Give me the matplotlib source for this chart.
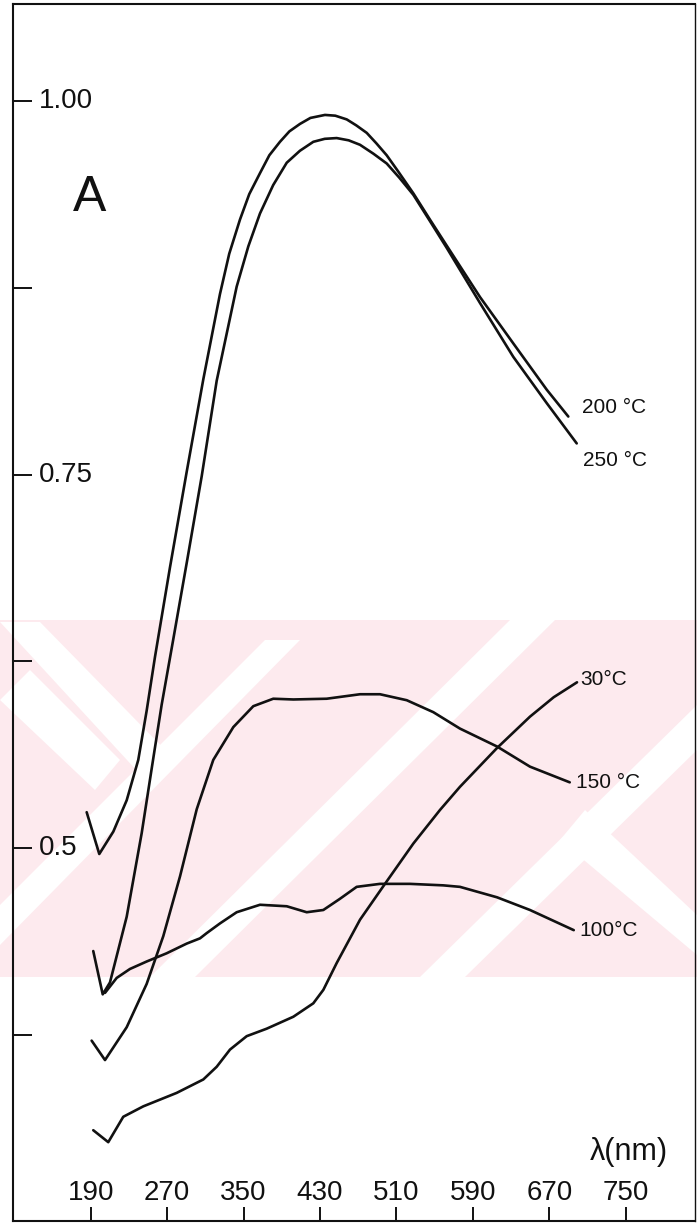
import matplotlib
matplotlib.use("Agg")
import matplotlib.pyplot as plt
from matplotlib.patches import Polygon, Rectangle
from matplotlib.transforms import Affine2D

plt.rcParams['font.family'] = ['Liberation Sans', 'DejaVu Sans']

# ---------------- data (wavelength nm, absorbance A) ----------------
x_ticks = [190, 270, 350, 430, 510, 590, 670, 750]
y_ticks = [1.00, 0.875, 0.75, 0.625, 0.5, 0.375]
y_ticklabels = ["1.00", "", "0.75", "", "0.5", ""]

wl_200 = [185.8, 199.0, 213.7, 227.7, 239.8, 248.6, 257.3, 273.0, 290.5, 307.9, 325.3,
          335.0, 346.3, 356.0, 367.2, 377.0, 388.1, 398.0, 409.1, 420.0, 435.2, 446.0,
          458.0, 468.0, 478.9, 489.0, 499.8, 512.0, 527.7, 545.0, 562.6, 597.5,
          632.3, 667.3, 689.9]
a_200 = [0.524, 0.496, 0.511, 0.532, 0.559, 0.592, 0.628, 0.688, 0.752, 0.814, 0.871,
         0.898, 0.921, 0.938, 0.952, 0.964, 0.973, 0.980, 0.985, 0.989, 0.991, 0.9905,
         0.988, 0.984, 0.979, 0.972, 0.964, 0.953, 0.9385, 0.921, 0.9035, 0.869,
         0.838, 0.807, 0.789]

wl_250 = [192.7, 202.6, 210.2, 227.7, 243.4, 253.8, 264.3, 276.5, 290.8, 306.2, 321.9,
          342.8, 355.0, 367.2, 381.0, 395.2, 409.0, 423.0, 435.0, 447.5, 460.0, 471.9,
          486.0, 499.8, 513.0, 527.7, 545.0, 562.6, 597.5, 632.3, 667.3, 698.7]
a_250 = [0.431, 0.402, 0.410, 0.454, 0.510, 0.553, 0.596, 0.640, 0.692, 0.749, 0.813,
         0.876, 0.903, 0.925, 0.944, 0.959, 0.967, 0.973, 0.975, 0.9755, 0.974, 0.971,
         0.965, 0.9585, 0.949, 0.9375, 0.920, 0.902, 0.865, 0.829, 0.798, 0.771]

wl_150 = [191.0, 205.0, 227.7, 248.6, 266.0, 283.5, 301.0, 318.3, 339.3, 360.2, 381.1,
          402.1, 437.0, 471.9, 492.8, 520.8, 548.6, 576.5, 615.3, 649.8, 691.4]
a_150 = [0.371, 0.358, 0.380, 0.409, 0.441, 0.481, 0.526, 0.559, 0.581, 0.595, 0.600,
         0.5995, 0.600, 0.603, 0.603, 0.599, 0.591, 0.580, 0.568, 0.5545, 0.544]

wl_100 = [205.0, 217.2, 231.1, 248.6, 269.5, 290.5, 304.4, 311.4, 325.3, 342.8, 367.2,
          395.2, 416.1, 433.5, 450.9, 468.4, 492.8, 524.2, 559.1, 576.5, 615.3, 649.8,
          695.6]
a_100 = [0.403, 0.413, 0.419, 0.424, 0.4295, 0.436, 0.4395, 0.443, 0.4495, 0.457, 0.462,
         0.461, 0.457, 0.4585, 0.466, 0.474, 0.476, 0.476, 0.475, 0.474, 0.467, 0.4585,
         0.445]

wl_30 = [192.7, 208.4, 224.1, 245.1, 280.0, 307.9, 321.9, 335.8, 353.3, 374.2, 402.1,
         423.0, 433.5, 447.5, 471.9, 498.0, 527.7, 555.6, 576.5, 615.3, 649.8, 674.6, 699.0]
a_30 = [0.311, 0.303, 0.320, 0.327, 0.336, 0.345, 0.3535, 0.365, 0.374, 0.379, 0.387,
        0.396, 0.405, 0.423, 0.452, 0.476, 0.503, 0.5255, 0.541, 0.567, 0.588, 0.601, 0.611]

curves = [
    (wl_200, a_200, "200 °C", (14, 9)),
    (wl_250, a_250, "250 °C", (6, -17)),
    (wl_30, a_30, "30°C", (3, 3)),
    (wl_150, a_150, "150 °C", (6, 0)),
    (wl_100, a_100, "100°C", (6, 0)),
]

# ---------------- figure ----------------
W, H = 697, 1229
fig = plt.figure(figsize=(W / 100, H / 100), dpi=100)
fig.patch.set_facecolor('white')

# faint pink watermark band (pixel coords, origin top-left)
px = Affine2D().scale(1 / W, -1 / H).translate(0, 1) + fig.transFigure
pink = '#fdeaee'
fig.patches.append(Rectangle((0, 620), W, 357, transform=px, facecolor=pink,
                             edgecolor='none', zorder=-5))
white_stripes = [
    [(0, 622), (40, 622), (175, 760), (150, 785)],
    [(0, 905), (0, 945), (300, 640), (265, 640)],
    [(150, 977), (195, 977), (555, 620), (510, 620)],
    [(420, 977), (465, 977), (697, 750), (697, 705)],
    [(560, 840), (585, 810), (697, 915), (697, 955)],
    [(0, 700), (30, 670), (120, 760), (95, 790)],
]
for poly in white_stripes:
    fig.patches.append(Polygon(poly, closed=True, transform=px, facecolor='white',
                               edgecolor='none', zorder=-4))

ax = fig.add_axes([13 / W, 8 / H, 682 / W, 1217 / H])
ax.set_zorder(2)
ax.set_facecolor('none')
ax.set_xlim(108.7, 822.5)
ax.set_ylim(0.2502, 1.0653)

for sp in ax.spines.values():
    sp.set_linewidth(1.5)
    sp.set_color('#111111')
ax.spines['right'].set_linewidth(1.0)

lc = '#111111'
for wl, a, lab, off in curves:
    ax.plot(wl, a, color=lc, lw=1.9, solid_joinstyle='round', solid_capstyle='round')
    ax.annotate(lab, xy=(wl[-1], a[-1]), xytext=off, textcoords='offset pixels',
                ha='left', va='center', fontsize=15, color=lc)

# ticks
ax.set_xticks(x_ticks)
ax.set_xticklabels([])
ax.tick_params(axis='x', direction='in', length=10, width=1.4, color=lc)
for xt in x_ticks:
    ax.text(xt, 0.0175, str(xt), transform=ax.get_xaxis_transform(),
            ha='center', va='baseline', fontsize=20, color=lc)

ax.set_yticks(y_ticks)
ax.set_yticklabels([])
ax.tick_params(axis='y', direction='in', length=14, width=1.4, color=lc)
for yt, yl in zip(y_ticks, y_ticklabels):
    if yl:
        ax.text(0.038, yt, yl, transform=ax.get_yaxis_transform(),
                ha='left', va='center', fontsize=20, color=lc)

ax.text(0.113, 0.841, "A", transform=ax.transAxes, ha='center', va='center',
        fontsize=36, color=lc)
ax.text(0.903, 0.0567, "λ(nm)", transform=ax.transAxes, ha='center', va='center',
        fontsize=22, color=lc)

fig.savefig("out.png", dpi=100)
